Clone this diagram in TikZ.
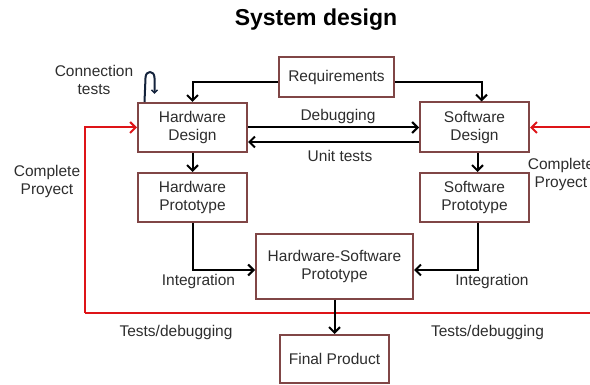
\documentclass[tikz,border=0pt]{standalone}
\usepackage{fontspec}
\setmainfont{Liberation Sans}
\usetikzlibrary{arrows.meta,calc}
\definecolor{boxc}{RGB}{128,70,70}
\definecolor{txtc}{RGB}{45,45,45}
\definecolor{redc}{RGB}{222,20,24}
\definecolor{navyc}{RGB}{20,35,60}
\tikzset{
  box/.style={draw=boxc,line width=2pt,fill=white,align=center,text=txtc,
    font=\fontsize{15.5}{18}\selectfont,inner sep=0pt},
  lbl/.style={align=center,text=txtc,font=\fontsize{15.5}{18}\selectfont,inner sep=0pt},
  arr/.style={line width=2pt,draw=black,-{Straight Barb[length=5.5pt,width=11pt,line width=2pt]}},
  redarr/.style={line width=2pt,draw=redc,-{Straight Barb[length=5.5pt,width=11pt,line width=2pt]}},
  redline/.style={line width=2pt,draw=redc}
}
\begin{document}
\begin{tikzpicture}[x=1pt,y=-1pt]
\useasboundingbox (0,0) rectangle (590,385);
% title
\node[font=\fontsize{23}{26}\selectfont\bfseries,text=black,inner sep=0pt] (title) at (316,20) {System design};
% boxes
\node[box,minimum width=115pt,minimum height=40pt] (req) at (336.5,77) {Requirements};
\node[box,minimum width=109pt,minimum height=49pt] (hwd) at (192.5,127.5) {Hardware\\Design};
\node[box,minimum width=109pt,minimum height=49pt] (hwp) at (192.5,197.5) {Hardware\\Prototype};
\node[box,minimum width=109pt,minimum height=50pt] (swd) at (474.5,127.5) {Software\\Design};
\node[box,minimum width=109pt,minimum height=49pt] (swp) at (474.5,197.5) {Software\\Prototype};
\node[box,minimum width=157pt,minimum height=65pt] (hws) at (334.5,266.5) {Hardware-Software\\Prototype};
\node[box,minimum width=109pt,minimum height=48pt] (fp) at (334.5,359) {Final Product};
% red feedback lines
\coordinate (L) at (85,313);
\coordinate (R) at (600,313);
\coordinate (RT) at (600,127.5);
\draw[redline] (R) -- (L);
\draw[redarr] (L) |- (hwd.west);
\draw[redarr] (RT) -- (swd.east);
% black connectors
\draw[arr] ([yshift=-5pt]req.west) -| (hwd.north);
\draw[arr] ([yshift=-5pt]req.east) -| ([xshift=7pt]swd.north);
\draw[arr] (hwd.east) -- (swd.west);
\draw[arr] ([yshift=-14.5pt]swd.west) -- ([yshift=-14.5pt]hwd.east);
\draw[arr] (hwd.south) -- (hwp.north);
\draw[arr] ([xshift=3pt]swd.south) -- ([xshift=3pt]swp.north);
\draw[arr] (hwp.south) |- ([yshift=-3.5pt]hws.west);
\draw[arr] ([xshift=3pt]swp.south) |- ([yshift=-3.5pt]hws.east);
\draw[arr] (hws.south) -- (fp.north);
% connection tests loop
\coordinate (c1) at ([xshift=7.5pt]hwd.north west);
\coordinate (c2) at (145.5,78);
\coordinate (c3) at (154.5,78);
\coordinate (c4) at (154.5,94);
\draw[line width=2pt,draw=navyc,-{Straight Barb[length=3pt,width=6pt,line width=1.5pt]}]
  (c1) -- (c2) .. controls (145.5,70) and (154.5,70) .. (c3) -- (c4);
% labels
\node[lbl] (lct) at (94,80) {Connection\\tests};
\node[lbl] (lcpl) at (47,181) {Complete\\Proyect};
\node[lbl] (lcpr) at (561,174) {Complete\\Proyect};
\node[lbl] (ldbg) at (338,116) {Debugging};
\node[lbl] (lut) at (340,156) {Unit tests};
\node[lbl] (lint1) at (198.5,281) {Integration};
\node[lbl] (lint2) at (492,281) {Integration};
\node[lbl] (ltd1) at (176,332) {Tests/debugging};
\node[lbl] (ltd2) at (487.5,332) {Tests/debugging};
\end{tikzpicture}
\end{document}
